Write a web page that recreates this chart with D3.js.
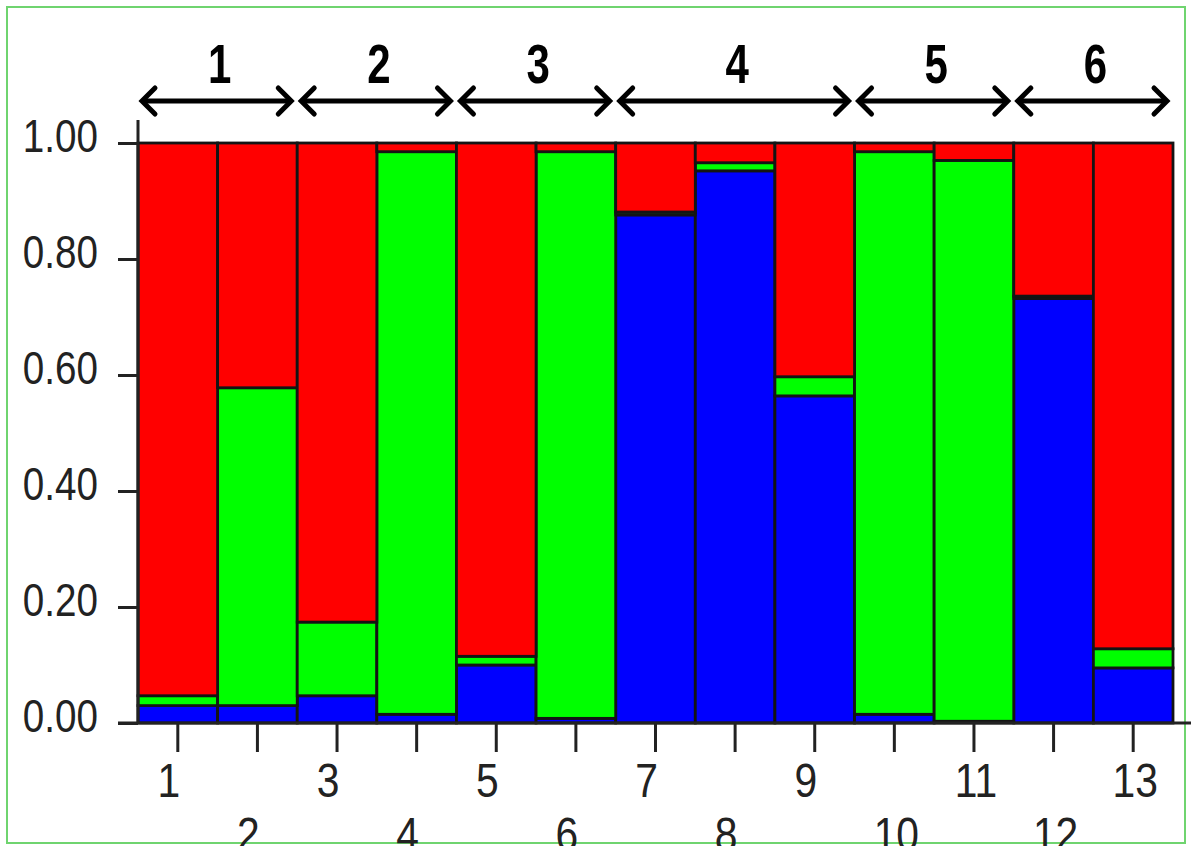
<!DOCTYPE html>
<html>
<head>
<meta charset="utf-8">
<script src="https://cdn.jsdelivr.net/npm/d3@7"></script>
<style>
  html, body { margin: 0; padding: 0; background: #ffffff; }
  svg { display: block; }
</style>
</head>
<body>
<svg id="chart" width="1191" height="846"></svg>
<script>
// ---- data ----
const individuals = ["1","2","3","4","5","6","7","8","9","10","11","12","13"];
const blueValues  = [0.030, 0.030, 0.047, 0.015, 0.100, 0.008, 0.876, 0.952, 0.564, 0.015, 0.003, 0.732, 0.095];
const greenValues = [0.017, 0.548, 0.127, 0.970, 0.015, 0.977, 0.005, 0.014, 0.033, 0.970, 0.967, 0.004, 0.033];
const redValues   = [0.953, 0.422, 0.826, 0.015, 0.885, 0.015, 0.119, 0.034, 0.403, 0.015, 0.030, 0.264, 0.872];
const yTickValues = [0, 0.2, 0.4, 0.6, 0.8, 1.0];
const groupLabels = ["1","2","3","4","5","6"];
const groupMembers = [["1","2"],["3","4"],["5","6"],["7","8","9"],["10","11"],["12","13"]];
const clusterKeys = ["blue","green","red"];
const clusterColors = ["#0000ff","#00ff00","#ff0000"];

// ---- setup ----
const svg = d3.select("#chart");
const FONT = "'Liberation Sans', Arial, sans-serif";
const plotLeft = 138, plotRight = 1173, plotTop = 143, plotBottom = 723;

const rows = individuals.map((id, i) => ({ id, blue: blueValues[i], green: greenValues[i], red: redValues[i] }));

const x = d3.scaleBand().domain(individuals).range([plotLeft, plotRight]).padding(0);
const y = d3.scaleLinear().domain([0, 1]).range([plotBottom, plotTop]);
const color = d3.scaleOrdinal().domain(clusterKeys).range(clusterColors);

// frame
svg.append("rect")
  .attr("x", 7).attr("y", 7).attr("width", 1178).attr("height", 836)
  .attr("fill", "none").attr("stroke", "#6fd46f").attr("stroke-width", 2);

// stacked bars
const stacked = d3.stack().keys(clusterKeys)(rows);
svg.append("g").selectAll("g").data(stacked).join("g")
  .attr("fill", d => color(d.key))
  .selectAll("rect").data(d => d).join("rect")
    .attr("x", d => x(d.data.id))
    .attr("width", x.bandwidth())
    .attr("y", d => y(d[1]))
    .attr("height", d => Math.max(0, y(d[0]) - y(d[1])))
    .attr("stroke", "#141414")
    .attr("stroke-width", 2.8);

// y axis
const ySX = 0.84;
const yAxis = svg.append("g")
  .attr("transform", `translate(${plotLeft},0)`)
  .call(d3.axisLeft(y).tickValues(yTickValues).tickFormat(d3.format(".2f")).tickSize(20).tickPadding(20));
yAxis.select(".domain").remove();
yAxis.selectAll(".tick line").attr("stroke", "#222").attr("stroke-width", 3);
yAxis.selectAll(".tick text")
  .attr("font-family", FONT).attr("font-size", 46).attr("fill", "#222")
  .attr("dy", "0.19em")
  .attr("x", -40 / ySX)
  .attr("transform", `scale(${ySX},1)`);
yAxis.append("line")
  .attr("x1", 0).attr("x2", 0).attr("y1", 120).attr("y2", plotBottom)
  .attr("stroke", "#222").attr("stroke-width", 3);

// x axis
const xSX = 0.85;
const xAxis = svg.append("g")
  .attr("transform", `translate(0,${plotBottom})`)
  .call(d3.axisBottom(x).tickSize(29).tickPadding(6));
xAxis.select(".domain").remove();
xAxis.selectAll(".tick line").attr("stroke", "#222").attr("stroke-width", 3);
xAxis.selectAll(".tick text")
  .attr("font-family", FONT).attr("font-size", 48).attr("fill", "#222")
  .attr("dy", 0)
  .attr("y", (d, i) => (i % 2 === 0 ? 74 : 128))
  .attr("x", d => (d.length === 1 ? -9 : 2) / xSX)
  .attr("transform", `scale(${xSX},1)`);
xAxis.append("line")
  .attr("x1", 118).attr("x2", 1191).attr("y1", 0).attr("y2", 0)
  .attr("stroke", "#222").attr("stroke-width", 3);

// group headers with double arrows
const groups = groupLabels.map((g, i) => {
  const mem = groupMembers[i];
  return { label: g, x0: x(mem[0]), x1: x(mem[mem.length - 1]) + x.bandwidth() };
});
const arrowY = 101, head = 13;
const gg = svg.append("g").selectAll("g").data(groups).join("g");
gg.append("line")
  .attr("x1", d => d.x0 + 4).attr("x2", d => d.x1 - 6)
  .attr("y1", arrowY).attr("y2", arrowY)
  .attr("stroke", "#000").attr("stroke-width", 5);
gg.append("path")
  .attr("d", d => `M${d.x0 + 4 + head},${arrowY - head} L${d.x0 + 4},${arrowY} L${d.x0 + 4 + head},${arrowY + head}`)
  .attr("fill", "none").attr("stroke", "#000").attr("stroke-width", 5)
  .attr("stroke-linecap", "round").attr("stroke-linejoin", "miter");
gg.append("path")
  .attr("d", d => `M${d.x1 - 6 - head},${arrowY - head} L${d.x1 - 6},${arrowY} L${d.x1 - 6 - head},${arrowY + head}`)
  .attr("fill", "none").attr("stroke", "#000").attr("stroke-width", 5)
  .attr("stroke-linecap", "round").attr("stroke-linejoin", "miter");
gg.append("text")
  .attr("transform", d => `translate(${(d.x0 + d.x1) / 2 + 2},83) scale(0.75,1)`)
  .attr("text-anchor", "middle")
  .attr("font-family", FONT).attr("font-weight", "bold").attr("font-size", 56)
  .attr("fill", "#000")
  .text(d => d.label);
</script>
</body>
</html>
